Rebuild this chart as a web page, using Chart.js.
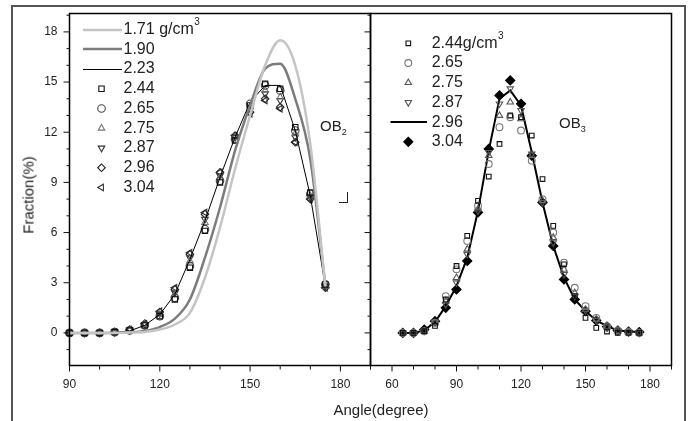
<!DOCTYPE html>
<html>
<head>
<meta charset="utf-8">
<script src="https://cdn.jsdelivr.net/npm/chart.js@4.4.1/dist/chart.umd.min.js"></script>
<style>
  body { margin: 0; background: #fff; }
  #wrap { position: relative; width: 688px; height: 421px; overflow: hidden; font-family: "Liberation Sans", Arial, sans-serif; }
  #frame { position: absolute; left: 11px; top: 5px; width: 675px; height: 440px; border: 2px solid #555; box-sizing: border-box; }
  canvas { position: absolute; left: 0; top: 0; }
  .lbl { position: absolute; color: #222; font-size: 15px; white-space: nowrap; }
  #ytitle { left: 28px; top: 195px; transform: translate(-50%, -50%) rotate(-90deg); }
  #xtitle { left: 381px; top: 409px; transform: translate(-50%, -50%); }
  #mark { position: absolute; left: 339px; top: 192px; width: 8px; height: 10px; border-right: 1.5px solid #222; border-bottom: 1.5px solid #222; }
</style>
</head>
<body>
<div id="wrap">
  <div id="frame"></div>
  <canvas id="leftChart" width="688" height="421"></canvas>
  <canvas id="rightChart" width="688" height="421"></canvas>
  <div class="lbl" id="ytitle">Fraction(%)</div>
  <div class="lbl" id="xtitle">Angle(degree)</div>
  <div id="mark"></div>
</div>
<script>
// OB2 panel (left)
const leftAngles = [90, 95, 100, 105, 110, 115, 120, 125, 130, 135, 140, 145, 150, 155, 160, 165, 170, 175];
const ob2_171 = [0, 0, 0, 0, 0.02, 0.06, 0.2, 0.5, 1.2, 3.3, 6.3, 9.8, 13.0, 16.0, 17.5, 16.0, 11.3, 2.8];
const ob2_190 = [0, 0, 0, 0.01, 0.04, 0.12, 0.35, 0.85, 2.0, 4.5, 7.5, 10.9, 13.6, 15.8, 16.1, 14.0, 10.4, 2.8];
const ob2_223 = [0, 0, 0, 0.03, 0.12, 0.45, 1.1, 2.3, 4.4, 6.7, 9.3, 11.7, 13.8, 14.8, 14.8, 12.1, 8.2, 2.8];
const ob2_244 = [0, 0, 0, 0.05, 0.15, 0.45, 1.0, 2.0, 3.9, 6.1, 9.0, 11.5, 13.6, 14.9, 14.6, 12.3, 8.4, 2.9];
const ob2_265 = [0, 0, 0, 0.05, 0.15, 0.45, 1.0, 2.1, 4.0, 6.2, 9.1, 11.6, 13.7, 14.8, 14.5, 12.1, 8.3, 2.9];
const ob2_275 = [0, 0, 0, 0.05, 0.15, 0.5, 1.1, 2.3, 4.3, 6.6, 9.3, 11.7, 13.5, 14.5, 14.1, 11.9, 8.2, 2.8];
const ob2_287 = [0, 0, 0, 0.05, 0.18, 0.5, 1.15, 2.4, 4.5, 6.8, 9.4, 11.7, 13.4, 14.3, 13.9, 11.7, 8.1, 2.8];
const ob2_296 = [0, 0, 0, 0.05, 0.2, 0.55, 1.25, 2.6, 4.7, 7.1, 9.6, 11.8, 13.2, 14.0, 13.5, 11.4, 8.0, 2.7];
const ob2_304 = [0, 0, 0, 0.05, 0.2, 0.55, 1.3, 2.7, 4.8, 7.2, 9.6, 11.8, 13.1, 13.9, 13.4, 11.4, 8.0, 2.7];

// OB3 panel (right)
const rightAngles = [65, 70, 75, 80, 85, 90, 95, 100, 105, 110, 115, 120, 125, 130, 135, 140, 145, 150, 155, 160, 165, 170, 175];
const ob3_244 = [0, 0, 0.1, 0.42, 2.0, 4.0, 5.8, 7.9, 9.35, 11.3, 13.0, 12.9, 11.8, 9.2, 6.4, 4.1, 2.2, 0.9, 0.3, 0.08, 0, 0, 0];
const ob3_265 = [0, 0, 0.1, 0.6, 2.2, 3.8, 5.5, 7.6, 10.1, 12.3, 12.9, 12.1, 10.3, 8.0, 6.0, 4.2, 2.7, 1.6, 0.9, 0.4, 0.15, 0.05, 0];
const ob3_275 = [0, 0, 0.1, 0.6, 1.9, 3.3, 5.0, 7.4, 10.6, 13.0, 13.8, 12.8, 10.6, 7.9, 5.7, 3.8, 2.4, 1.4, 0.8, 0.35, 0.1, 0.05, 0];
const ob3_287 = [0, 0, 0.12, 0.65, 1.7, 3.0, 4.7, 7.3, 10.8, 13.7, 14.6, 13.3, 10.7, 7.8, 5.4, 3.5, 2.2, 1.35, 0.75, 0.38, 0.12, 0.06, 0.02];
const ob3_296 = [0, 0, 0.15, 0.65, 1.6, 2.8, 4.5, 7.3, 10.9, 14.0, 14.5, 13.6, 10.8, 7.8, 5.2, 3.3, 2.0, 1.3, 0.75, 0.4, 0.15, 0.08, 0.05];
const ob3_304 = [0, 0, 0.2, 0.7, 1.5, 2.6, 4.3, 7.2, 11.0, 14.2, 15.1, 13.7, 10.6, 7.8, 5.2, 3.2, 2.0, 1.3, 0.74, 0.38, 0.14, 0.08, 0.05];

// axes
const yTicks = [0, 3, 6, 9, 12, 15, 18];
const leftXTicks = [90, 120, 150, 180];
const rightXTicks = [60, 90, 120, 150, 180];

const FONT = '"Liberation Sans", Arial, sans-serif';

function pts(xs, ys) {
  return xs.map((x, i) => ({ x: x, y: ys[i] }));
}

function curve(label, xs, ys, color, width, smooth) {
  return {
    label: label, data: pts(xs, ys), borderColor: color, borderWidth: width,
    pointRadius: 0, tension: 0, cubicInterpolationMode: smooth ? 'monotone' : 'default',
    showLine: true, fill: false
  };
}

function marks(label, xs, ys, style, color, rot, fillColor, r) {
  return {
    label: label, data: pts(xs, ys), showLine: false, clip: false,
    pointStyle: style, pointRotation: rot || 0, pointRadius: r || 3.8,
    borderColor: color, pointBorderColor: color, pointBorderWidth: 1.1,
    pointBackgroundColor: fillColor || 'rgba(0,0,0,0)', backgroundColor: fillColor || 'rgba(0,0,0,0)'
  };
}

// frame, tick marks, legend and OB labels
const panelDecor = {
  id: 'panelDecor',
  afterDraw(chart, args, o) {
    const ctx = chart.ctx, a = chart.chartArea, x = chart.scales.x, y = chart.scales.y;
    ctx.save();
    ctx.strokeStyle = '#111';
    ctx.lineWidth = 1;
    ctx.beginPath();
    for (let v = x.min; v <= x.max; v += 10) {
      const p = x.getPixelForValue(v);
      const len = o.xMajor.includes(v) ? 6 : 4;
      ctx.moveTo(p, a.bottom); ctx.lineTo(p, a.bottom + len);
    }
    if (o.yTicks) {
      for (let v = -1; v <= 19; v += 1) {
        const p = y.getPixelForValue(v);
        const len = v % 3 === 0 ? 6 : 3;
        ctx.moveTo(a.left, p); ctx.lineTo(a.left - len, p);
        ctx.moveTo(a.right, p); ctx.lineTo(a.right - len, p);
      }
    }
    ctx.stroke();
    ctx.lineWidth = 1.5;
    ctx.strokeStyle = '#000';
    ctx.strokeRect(a.left, a.top, a.right - a.left, a.bottom - a.top);

    // legend
    ctx.textBaseline = 'middle';
    ctx.textAlign = 'left';
    chart.data.datasets.forEach((ds, i) => {
      const ry = o.legendTop + i * o.legendStep;
      if (ds.pointRadius === 0) {
        const ly = ds.borderWidth % 2 === 1 ? Math.round(ry) + 0.5 : Math.round(ry);
        ctx.strokeStyle = ds.borderColor;
        ctx.lineWidth = ds.borderWidth;
        ctx.beginPath();
        ctx.moveTo(o.lineX0, ly); ctx.lineTo(o.lineX1, ly);
        ctx.stroke();
      } else {
        ctx.strokeStyle = ds.pointBorderColor;
        ctx.fillStyle = ds.pointBackgroundColor;
        ctx.lineWidth = 1.1;
        Chart.helpers.drawPoint(ctx, { pointStyle: ds.pointStyle, rotation: ds.pointRotation, radius: ds.pointRadius, borderWidth: 1.1 }, o.markX, ry);
      }
      ctx.fillStyle = '#222';
      ctx.font = '16px ' + FONT;
      ctx.fillText(ds.label, o.textX, ry);
      if (i === 0) {
        let tx = o.textX + ctx.measureText(ds.label).width + o.unitGap;
        ctx.fillText('g/cm', tx, ry);
        tx += ctx.measureText('g/cm').width + 0.5;
        ctx.font = '10px ' + FONT;
        ctx.fillText('3', tx, ry - 7);
      }
    });

    // OB tag
    ctx.fillStyle = '#222';
    ctx.textBaseline = 'alphabetic';
    ctx.font = '15px ' + FONT;
    ctx.fillText('OB', o.tagX, o.tagY);
    const w = ctx.measureText('OB').width;
    ctx.font = '9px ' + FONT;
    ctx.fillText(o.tagSub, o.tagX + w, o.tagY + 4);
    ctx.restore();
  }
};

function xAxis(min, ticks) {
  return {
    type: 'linear', min: min, max: 190,
    grid: { display: false }, border: { display: false },
    afterBuildTicks: s => { s.ticks = ticks.map(v => ({ value: v })); },
    afterFit: s => { s.height = 55.5; },
    ticks: { padding: 4, color: '#222', font: { family: FONT, size: 12 }, maxRotation: 0, callback: v => String(v) }
  };
}

const leftDatasets = [
  curve('1.71', leftAngles, ob2_171, '#c4c4c4', 2.5, true),
  curve('1.90', leftAngles, ob2_190, '#7c7c7c', 2.5, true),
  curve('2.23', leftAngles, ob2_223, '#000', 1, false),
  marks('2.44', leftAngles, ob2_244, 'rect', '#111'),
  marks('2.65', leftAngles, ob2_265, 'circle', '#444'),
  marks('2.75', leftAngles, ob2_275, 'triangle', '#777'),
  marks('2.87', leftAngles, ob2_287, 'triangle', '#333', 180),
  marks('2.96', leftAngles, ob2_296, 'rectRot', '#222'),
  marks('3.04', leftAngles, ob2_304, 'triangle', '#333', 270)
];

new Chart(document.getElementById('leftChart'), {
  type: 'scatter',
  data: { datasets: leftDatasets },
  options: {
    responsive: false, animation: false,
    layout: { padding: { left: 0, top: 13.5, right: 317.5, bottom: 0 } },
    plugins: {
      legend: { display: false }, tooltip: { enabled: false },
      panelDecor: {
        xMajor: leftXTicks, yTicks: true,
        legendTop: 29.5, legendStep: 19.75, lineX0: 83, lineX1: 122, markX: 101.5, textX: 123.5, unitGap: 4.5,
        tagX: 320, tagY: 131, tagSub: '2'
      }
    },
    scales: {
      x: xAxis(90, leftXTicks),
      y: {
        type: 'linear', min: -1.95, max: 19.1,
        grid: { display: false }, border: { display: false },
        afterBuildTicks: s => { s.ticks = yTicks.map(v => ({ value: v })); },
        afterFit: s => { s.width = 69.5; },
        ticks: { padding: 4, color: '#222', font: { family: FONT, size: 12 } }
      }
    }
  },
  plugins: [panelDecor]
});

const rightDatasets = [
  marks('2.44', rightAngles, ob3_244, 'rect', '#111', 0, null, 3.3),
  marks('2.65', rightAngles, ob3_265, 'circle', '#777', 0, null, 3.4),
  marks('2.75', rightAngles, ob3_275, 'triangle', '#555', 0, null, 3.7),
  marks('2.87', rightAngles, ob3_287, 'triangle', '#555', 180, null, 3.7),
  curve('2.96', rightAngles, ob3_296, '#000', 2, false),
  marks('3.04', rightAngles, ob3_304, 'rectRot', '#000', 0, '#000', 4.6)
];

new Chart(document.getElementById('rightChart'), {
  type: 'scatter',
  data: { datasets: rightDatasets },
  options: {
    responsive: false, animation: false,
    layout: { padding: { left: 370.5, top: 13.5, right: 16.5, bottom: 0 } },
    plugins: {
      legend: { display: false }, tooltip: { enabled: false },
      panelDecor: {
        xMajor: rightXTicks, yTicks: false,
        legendTop: 43.3, legendStep: 19.7, lineX0: 390.5, lineX1: 427, markX: 408.3, textX: 431.7, unitGap: 0,
        tagX: 559, tagY: 128, tagSub: '3'
      }
    },
    scales: {
      x: xAxis(50, rightXTicks),
      y: { type: 'linear', min: -1.95, max: 19.1, display: false }
    }
  },
  plugins: [panelDecor]
});
</script>
</body>
</html>
